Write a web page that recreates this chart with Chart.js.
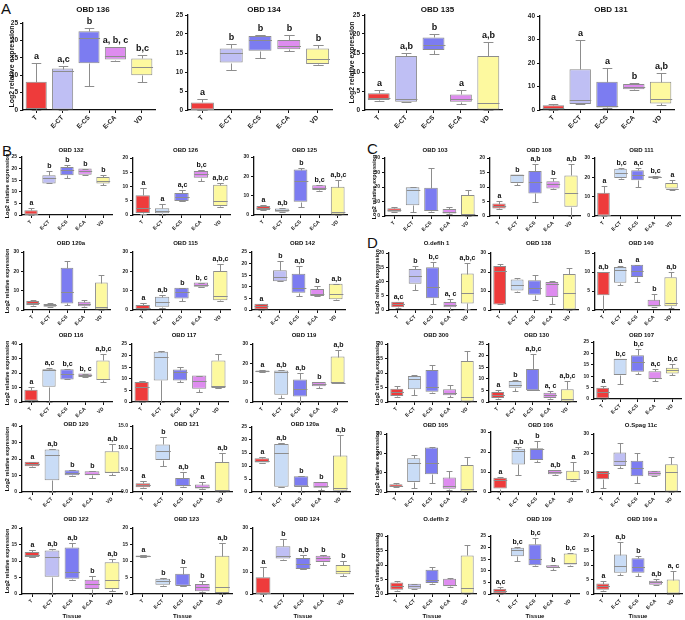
<!DOCTYPE html>
<html>
<head>
<title>Log2 relative expression by tissue</title>
<style>
body { margin: 0; background: #fff; font-family: "Liberation Sans", Arial, sans-serif; }
#wrap { position: relative; width: 685px; height: 620px; overflow: hidden; }
.panel { position: absolute; font-size: 15px; color: #111; line-height: 1; }
canvas { position: absolute; }
</style>
</head>
<body>
<div id="wrap">
  <div class="panel" style="left:1px;top:1px">A</div>
  <div class="panel" style="left:2px;top:143px">B</div>
  <div class="panel" style="left:367px;top:141px">C</div>
  <div class="panel" style="left:367px;top:235px">D</div>
</div>

<script src="https://cdn.jsdelivr.net/npm/chart.js@4.4.0/dist/chart.umd.min.js"></script>
<script>
const tissues = ['T', 'E-CT', 'E-CS', 'E-CA', 'VD'];

// each row: [min, q1, median, q3, max] for T, E-CT, E-CS, E-CA, VD
const obd136 = [[0,0.3,0.5,8.1,13.5],[0,0,11.3,11.9,12.7],[7,13.4,20.8,22.6,23.7],[14.2,14.5,15.5,18.1,18.1],[8.1,10,12.4,14.8,15.9]];
const obd136Sig = ['a','a,c','b','a, b, c','b,c'];
const obd134 = [[0,0,0.3,2,2.8],[10.4,12.5,14.9,16.2,17.5],[13.6,15.6,18.4,19.5,19.7],[15.6,16,16.8,18.4,19.7],[11.8,12.1,13.3,16.2,17.1]];
const obd134Sig = ['a','b','b','b','b'];
const obd135 = [[2.5,2.6,3.2,4.4,5.3],[2.1,2.2,2.8,14.2,15.1],[14.7,15.8,17.1,19.1,20],[1.5,2.2,3,4.1,5.3],[0,0,1.8,14.2,18]];
const obd135Sig = ['a','a,b','b','a','a,b'];
const obd131 = [[0,0,1,2,2.6],[2.5,2.6,4.3,17.3,29.8],[1,1.1,1.5,12,17.7],[8.5,8.8,9.9,11.1,11.3],[2.2,2.8,4.7,12,15.6]];
const obd131Sig = ['a','a','a','b','a,b'];

const obd132 = [[0,0,0.5,2,3.1],[13.6,13.6,16.1,17.1,18.9],[16.1,17.1,19.3,20.7,21.7],[17.1,17.4,18.9,20,20],[12.9,13.6,14.7,16.4,17.1]];
const obd132Sig = ['a','b','b','b','b'];
const obd126 = [[0.5,0.7,2.4,6.9,9.5],[0,0.6,1.3,2.4,3.8],[4.9,4.9,6.3,7.7,8.9],[12,13.1,14.3,15.4,15.7],[2.9,3.2,4.9,10.6,11.4]];
const obd126Sig = ['a','a','a,c','b,c','a,b,c'];
const obd125 = [[2.5,2.6,3.4,4.6,5.1],[1.5,1.7,2.6,3.4,3.6],[4.3,6.9,17.7,23.5,24.5],[12.5,12.9,14.1,15.4,15.6],[0,0,1.7,14.6,18]];
const obd125Sig = ['a','a,b','b','b,c','a,b,c'];
const obd120a = [[2.3,2.6,3.4,4.6,5.1],[1.5,1.7,2.4,3.1,3.6],[2.6,3.4,9.4,21.8,25.2],[1.7,2,3.1,4.3,5],[0,0,1.7,14.2,18]];
const obd115 = [[0,0,0.9,2.6,3.8],[0.9,1.7,4.3,6.9,7.7],[4.6,6,9.4,11.5,11.5],[11.7,12,12.9,14.2,14.2],[4.8,5,7.4,20.2,24]];
const obd115Sig = ['a','a,b','b','b, c','a,b,c'];
const obd142 = [[0,0,1.7,2.7,2.7],[12.4,12.4,14.1,17.1,21],[6,7.4,9.6,15.6,18.9],[6,6,7.1,9.1,10.3],[4.3,4.6,7.1,11.3,11.3]];
const obd142Sig = ['a','b','a,b','b','a,b'];
const obd116 = [[0,0.9,1.6,8.4,10.2],[0,10.6,21.9,22.6,23.5],[15.6,15.6,19,22.6,22.6],[17,17.2,18.5,19.6,19.6],[14,15.1,16.2,28.7,33.2]];
const obd116Sig = ['a','a,c','b,c','b, c','a,b,c'];
const obd117 = [[0,0,6.4,8.6,8.9],[0,9.3,19.6,21.7,22.1],[8.6,9.3,12.9,14,15],[4.3,5.7,8.9,11.4,11.4],[6,6,7.1,17.9,20.7]];
const obd119 = [[15.4,15.4,15.8,16.3,16.3],[2.1,3.8,15.4,16.3,16.3],[0,2.9,6.5,11.7,14.9],[7.2,8.2,9.4,10.3,10.3],[9.6,9.8,9.8,23.5,27.1]];
const obd119Sig = ['a','a,b','a,b','b','a,b'];
const obd120 = [[15,15.6,17.2,18.3,18.3],[0,7.1,22.3,25.8,25.8],[9.5,10.1,11.6,13.2,13.2],[8.5,10.1,11.2,12.6,12.6],[10.5,11.6,12.2,24.7,29.2]];
const obd120Sig = ['a','a,b','b','b','a,b'];
const obd121 = [[1,1.1,1.5,2,2.4],[5.8,7.3,9.4,10.8,12.4],[1.2,1.3,1.7,3.2,4.5],[0.6,0.8,1.1,1.7,2.3],[0,0,0.5,6.8,8.9]];
const obd121Sig = ['a','b','a,b','a','a,b'];
const obd120a2 = [[11.3,11.3,12,13,13.5],[2,2,15,18.5,18.8],[0,2.2,2.2,6.1,6.1],[0.7,1.6,2.2,3.8,3.8],[0,0.5,1.5,14,22]];
const obd120a2Sig = ['a','a,b','b','b','a,b'];
const obd122 = [[11.2,11.2,11.9,12.7,13.2],[0,5.2,11.1,13.2,13.6],[4.3,4.6,6.7,14.1,15.5],[0,1.5,3.1,4.3,5.4],[1,1.5,4.1,9.6,10.6]];
const obd122Sig = ['a','a,b','a,b','b','a,b'];
const obd123 = [[11.1,11.1,11.4,11.7,11.7],[2.3,2.8,3.8,4.6,4.8],[2.3,2.5,2.8,6.1,8.2],[0.5,0.8,2,3,3.8],[0,0.3,2.1,11.6,15.5]];
const obd123Sig = ['a','b','b','b','a,b'];
const obd124 = [[0,0,0.5,7.6,12.1],[15.6,16.1,17.1,21.7,25],[11.4,11.4,13.6,16.4,17.9],[13.3,14.5,16.4,17.4,17.9],[8,9,10.5,13.2,15]];
const obd124Sig = ['a','b','a,b','b','b'];

const obd103 = [[2.7,3,4.1,5.3,5.9],[2.5,7.5,17.7,19.9,20.3],[3,3.4,4.1,19.4,33],[1.5,1.8,3,4.8,5.9],[0,0,1.4,14.4,18]];
const obd108 = [[2.3,2.6,3.4,4.3,5.1],[10.6,11.4,14,14.3,14.3],[4.7,7.8,11.8,15.5,18],[9.3,9.5,10.9,12,13.1],[0,3.2,7.8,14,18]];
const obd108Sig = ['a','b','a,b','b','a,b'];
const obd111 = [[0,0,0.5,12,15.4],[19,19.7,22.5,24.5,25],[15.1,18.5,21.4,23.7,24.9],[19.6,19.7,20.1,20.6,20.6],[13.7,14.2,14.2,17.1,18.5]];
const obd111Sig = ['a','b,c','a,c','b,c','a'];

const odeflh1 = [[0.8,1,2,2.9,2.9],[7,9.2,12.1,14.4,15.3],[2,4.1,8.1,15,16.9],[0,1,1.6,2.8,3.7],[0.2,2.3,6,12.8,16.5]];
const odeflh1Sig = ['a,c','b','b,c','a, c','a,b,c'];
const obd138 = [[2.9,2.9,20.3,23.2,24],[9.7,10.2,13,16.1,16.8],[5.1,8,11.4,15.6,18.5],[3.2,6.8,13.6,14.7,15.1],[0,0,8.8,19,21.9]];
const obd140 = [[0,3.9,9.9,10,10],[6.6,7.2,10.6,11.3,11.6],[7.3,8.7,10.2,11.9,11.9],[0.7,0.9,1.2,2.7,4.2],[0.5,1,1.9,8.6,10]];
const obd140Sig = ['a,b','a','a','b','a,b'];
const obd300 = [[1.7,2.1,3.5,4.6,5.5],[2.3,4.4,7.9,9,9.2],[3.2,3.5,5.2,11,12.9],[1.7,2.3,3.2,4.4,5.8],[0,0,1.7,14.1,17.7]];
const obd130 = [[1.2,1.7,2.9,4.3,5.1],[4.6,6.1,7.5,9,9.4],[5,5.1,5.1,14.2,20.5],[1.2,1.7,2.9,4,4.6],[0,0,1.2,5.5,9]];
const obd130Sig = ['a','b','a,b,c','a, c','a,b,c'];
const obd107 = [[0,0,2.9,4.9,5.8],[6.4,10.5,17.4,17.7,17.7],[10.8,11.9,16.3,19.2,21.8],[8,8.7,9.4,12.2,13.1],[10.5,11.2,12.6,13.7,15.3]];
const obd107Sig = ['a','b,c','b,c','a,c','b,c'];
const obd105 = [[2.6,2.6,3.1,4,4.9],[2.3,5.2,15.2,17.5,19.2],[4.4,9.2,15.2,23,23.2],[1.2,1.7,3.1,7.5,11],[0,0,1.7,14,18]];
const obd106 = [[0,1.7,6.2,7.1,7.6],[8.4,13.8,20.7,21.6,22.3],[15.2,16,21.4,21.9,25.3],[8.6,8.9,10.1,11,11],[5.6,5.9,6.7,10.6,14.8]];
const obd106Sig = ['a','a,b','b','a,b','a'];
const ospag11c = [[2.3,6.6,9.9,10.8,10.8],[12.2,13.4,16,20.4,25.3],[4.4,8.2,12.2,16.2,20],[8.2,8.4,9.6,11,11],[0,0,10.5,14.3,18]];
const odeflh2 = [[0.9,1.5,2.7,4,4.4],[1.8,1.8,2.9,3.5,3.6],[3.5,3.8,5,8.4,9.2],[2.3,2.7,3.2,5.3,5.5],[0,0,2.1,13.3,16.8]];
const obd109 = [[0,0,1.2,2.3,2.9],[14.2,16.3,18.9,19.9,20.2],[12.2,12.4,14.9,21.4,24.3],[10.5,11.3,11.7,12.4,12.4],[12,12.7,13.4,17.5,17.5]];
const obd109Sig = ['a,c','b,c','b,c','b','b,c'];
const obd109a = [[0.9,1.5,2.7,3.6,4.4],[6.7,7.3,9.6,13.6,17.9],[6.1,7.3,9.4,12.3,13.1],[3.2,3.2,4.2,4.6,5.2],[0,0,0,5,8.1]];
const obd109aSig = ['a','a,b','b','a,b','a, c'];

// title, boxes, letters, y max, y step
// then x of y axis, x end of x axis, y of top tick, y of baseline, title y, y-label x, flags
// flags: A = large panel, t = Tissue label, b = pale blue E-CT, d = one decimal ticks
const plots = [
  ['OBD 136', obd136, obd136Sig, 25, 5, 23, 155, 23, 110, 10, 12, 'A'],
  ['OBD 134', obd134, obd134Sig, 25, 5, 188, 332, 15, 110, 10, 0, 'A'],
  ['OBD 135', obd135, obd135Sig, 25, 5, 365, 502, 15, 110, 10, 352, 'A'],
  ['OBD 131', obd131, obd131Sig, 40, 10, 540, 674, 16, 110, 10, 0, 'A'],

  ['OBD 132', obd132, obd132Sig, 25, 5, 22, 112, 157, 215, 150, 7, ''],
  ['OBD 126', obd126, obd126Sig, 20, 5, 133, 230, 158, 215, 150, 0, 'b'],
  ['OBD 125', obd125, obd125Sig, 30, 10, 254, 347, 157, 215, 150, 0, 'b'],
  ['OBD 120a', obd120a, null, 30, 10, 24, 110, 252, 310, 243, 7, ''],
  ['OBD 115', obd115, obd115Sig, 30, 10, 133, 230, 252, 310, 243, 0, 'b'],
  ['OBD 142', obd142, obd142Sig, 25, 5, 252, 345, 252, 310, 243, 0, ''],
  ['OBD 116', obd116, obd116Sig, 40, 10, 22, 112, 344, 402, 335, 7, 'b'],
  ['OBD 117', obd117, null, 25, 5, 132, 228, 344, 402, 335, 0, 'b'],
  ['OBD 119', obd119, obd119Sig, 30, 10, 253, 347, 344, 402, 335, 0, 'b'],
  ['OBD 120', obd120, obd120Sig, 40, 10, 22, 122, 426, 492, 424, 7, 'b'],
  ['OBD 121', obd121, obd121Sig, 15, 5, 133, 232, 426, 492, 424, 0, 'bd'],
  ['OBD 120a', obd120a2, obd120a2Sig, 25, 5, 252, 350, 427, 492, 424, 0, 'b'],
  ['OBD 122', obd122, obd122Sig, 20, 5, 22, 122, 528, 594, 519, 7, 't'],
  ['OBD 123', obd123, obd123Sig, 20, 5, 133, 232, 528, 594, 519, 0, 'tb'],
  ['OBD 124', obd124, obd124Sig, 30, 10, 253, 353, 528, 594, 519, 0, 't'],

  ['OBD 103', obd103, null, 40, 10, 385, 477, 158, 216, 150, 374, 'b'],
  ['OBD 108', obd108, obd108Sig, 20, 5, 490, 580, 158, 216, 150, 0, 'b'],
  ['OBD 111', obd111, obd111Sig, 30, 10, 595, 680, 158, 216, 150, 0, 'b'],

  ['O.deflh 1', odeflh1, odeflh1Sig, 20, 5, 389, 476, 253, 310, 243, 377, ''],
  ['OBD 138', obd138, null, 30, 10, 491, 578, 253, 310, 243, 0, 'b'],
  ['OBD 140', obd140, obd140Sig, 15, 5, 595, 679, 253, 310, 243, 0, 'b'],
  ['OBD 300', obd300, null, 20, 5, 388, 476, 344, 402, 335, 377, 'b'],
  ['OBD 130', obd130, obd130Sig, 25, 5, 489, 576, 344, 402, 335, 0, 'b'],
  ['OBD 107', obd107, obd107Sig, 25, 5, 594, 681, 342, 399, 335, 0, 'b'],
  ['OBD 105', obd105, null, 30, 10, 387, 476, 434, 492, 425, 377, 'b'],
  ['OBD 106', obd106, obd106Sig, 30, 10, 491, 582, 432, 492, 425, 0, 'b'],
  ['O.Spag 11c', ospag11c, null, 30, 10, 594, 680, 434, 492, 425, 0, ''],
  ['O.deflh 2', odeflh2, null, 20, 5, 388, 476, 536, 594, 519, 377, 't'],
  ['OBD 109', obd109, obd109Sig, 25, 5, 491, 579, 536, 594, 519, 0, 'tb'],
  ['OBD 109 a', obd109a, obd109aSig, 20, 5, 594, 682, 536, 594, 519, 0, 'tb']
];

const FONT = '"Liberation Sans", Arial, sans-serif';
const lavender = '#bfbff4', paleBlue = '#c9dcf6';
const edge = '#8d8d8d';

const boxPlugin = {
  id: 'boxes',
  afterDatasetsDraw(chart, args, o) {
    const ctx = chart.ctx, y = chart.scales.y, area = chart.chartArea;
    const bars = chart.getDatasetMeta(0).data;
    ctx.save();
    ctx.strokeStyle = edge;
    ctx.lineWidth = 1;
    o.boxes.forEach((b, i) => {
      const x = Math.round(bars[i].x) + 0.5, w = bars[i].width / 2, c = w * 0.45;
      const p = b.map(v => Math.round(y.getPixelForValue(v)) + 0.5);
      ctx.beginPath();
      ctx.moveTo(x, p[1]); ctx.lineTo(x, p[0]);
      ctx.moveTo(x - c, p[0]); ctx.lineTo(x + c, p[0]);
      ctx.moveTo(x, p[3]); ctx.lineTo(x, p[4]);
      ctx.moveTo(x - c, p[4]); ctx.lineTo(x + c, p[4]);
      ctx.moveTo(x - w, p[2]); ctx.lineTo(x + w, p[2]);
      ctx.stroke();
      if (o.sig) {
        ctx.fillStyle = '#111';
        ctx.font = 'bold ' + (o.big ? 9 : 7) + 'px ' + FONT;
        ctx.textAlign = 'center';
        ctx.textBaseline = 'bottom';
        ctx.fillText(o.sig[i], x, p[4] - 2);
      }
    });
    ctx.fillStyle = '#111';
    ctx.textAlign = 'center';
    ctx.textBaseline = 'middle';
    ctx.font = 'bold ' + (o.big ? 8 : 6) + 'px ' + FONT;
    ctx.fillText(o.title, (area.left + area.right) / 2 + 4, 7);
    if (o.tissue) {
      ctx.font = 'bold 6px ' + FONT;
      ctx.fillText('Tissue', (area.left + area.right) / 2, o.tissueY);
    }
    if (o.labelX) {
      ctx.translate(o.labelX, (area.top + area.bottom) / 2);
      ctx.rotate(-Math.PI / 2);
      ctx.font = 'bold ' + (o.big ? 7 : 5.5) + 'px ' + FONT;
      ctx.fillText('Log2 relative expression', 0, 0);
    }
    ctx.restore();
  }
};

const wrap = document.getElementById('wrap');
plots.forEach(pl => {
  const [title, boxes, sig, yMax, step, x0, x1, yT, yB, titleY, labelX, flags] = pl;
  const big = flags.includes('A'), tissue = flags.includes('t');
  const left = x0 - 30, top = titleY - 7;
  const width = Math.min(x1 + 4, 686) - left;
  const axisH = tissue ? 30 : 22;
  const height = yB + axisH - top;
  const cv = document.createElement('canvas');
  cv.width = width; cv.height = height;
  cv.style.left = left + 'px'; cv.style.top = top + 'px';
  wrap.appendChild(cv);

  const tickFont = { family: FONT, size: big ? 6.5 : 5, weight: 'bold' };
  new Chart(cv, {
    type: 'bar',
    data: {
      labels: tissues,
      datasets: [{
        data: boxes.map(b => [b[1], b[3]]),
        backgroundColor: ['#ee3b3b', flags.includes('b') ? paleBlue : lavender, '#7c7cf1', '#de8cef', '#fdf99f'],
        borderColor: edge,
        borderWidth: 1,
        borderSkipped: false,
        barPercentage: big ? 0.8 : 0.74,
        categoryPercentage: 1
      }]
    },
    options: {
      responsive: false,
      animation: false,
      layout: { padding: { top: yT - top, right: width - (x1 - left), left: 0, bottom: 0 } },
      plugins: {
        legend: { display: false },
        tooltip: { enabled: false },
        boxes: {
          boxes: boxes, sig: sig, big: big, title: title,
          tissue: tissue, tissueY: 616 - top,
          labelX: labelX ? labelX - left : 0
        }
      },
      scales: {
        x: {
          grid: { offset: false, drawOnChartArea: false, tickLength: 3, color: '#111', lineWidth: 1 },
          border: { color: '#111', width: 1.3 },
          ticks: { autoSkip: false, maxRotation: 45, minRotation: 45, padding: 1, color: '#222', font: tickFont },
          afterFit(s) { s.height = axisH; }
        },
        y: {
          min: 0, max: yMax,
          grid: { drawOnChartArea: false, tickLength: 3, color: '#111', lineWidth: 1 },
          border: { color: '#111', width: 1.3 },
          ticks: {
            stepSize: step, padding: 2, color: '#222', font: tickFont,
            callback: v => flags.includes('d') ? v.toFixed(1) : v
          },
          afterFit(s) { s.width = 30; }
        }
      }
    },
    plugins: [boxPlugin]
  });
});
</script>
</body>
</html>
